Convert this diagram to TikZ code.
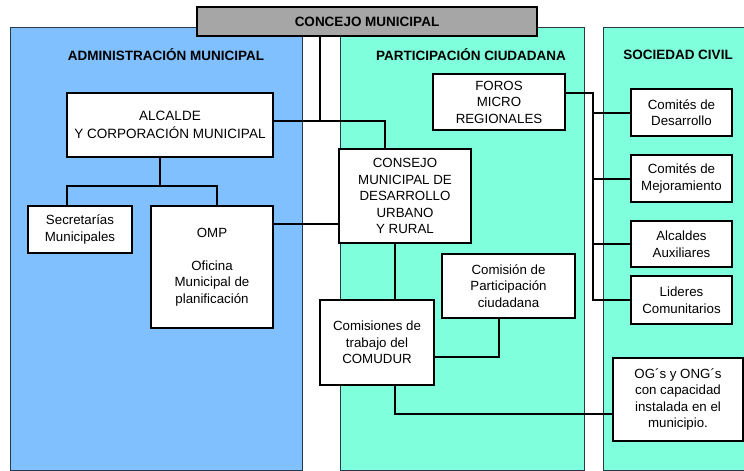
\documentclass[tikz,border=0pt]{standalone}
\usepackage{fontspec}
\setmainfont{Liberation Sans}
\definecolor{panelblue}{HTML}{80C0FF}
\definecolor{panelteal}{HTML}{80FFDC}
\definecolor{concejogray}{HTML}{A6A6A6}
\definecolor{panelline}{HTML}{2A3A4A}
\tikzset{
  panel/.style={draw=panelline, line width=0.8pt},
  box/.style={draw=black, line width=2pt, fill=white, inner sep=0pt, align=center,
    font=\fontsize{13.3}{16.5}\selectfont},
  title/.style={font=\fontsize{13.5}{16}\selectfont\bfseries, inner sep=0pt},
  link/.style={draw=black, line width=2pt}
}
\begin{document}
\begin{tikzpicture}[x=1pt,y=-1pt]
\useasboundingbox (0,0) rectangle (744,471);
% panels
\fill[white] (0,0) rectangle (744,471);
\draw[panel, fill=panelblue] (10,27) rectangle (302,470);
\draw[panel, fill=panelteal] (340,27) rectangle (584,470);
\draw[panel, fill=panelteal] (603,27) rectangle (760,470);
% titles
\node[title] (tadm) at (166,55) {ADMINISTRACIÓN MUNICIPAL};
\node[title] (tpar) at (471,55) {PARTICIPACIÓN CIUDADANA};
\node[title] (tsoc) at (678,55) {SOCIEDAD CIVIL};
% boxes
\node[box, fill=concejogray, minimum width=340pt, minimum height=29pt,
      font=\fontsize{13.5}{16}\selectfont\bfseries] (concejo) at (367,21.5) {CONCEJO MUNICIPAL};
\node[box, minimum width=206pt, minimum height=64pt, font=\fontsize{13.5}{18}\selectfont] (alcalde) at (170,125)
  {ALCALDE\\Y CORPORACIÓN MUNICIPAL};
\node[box, minimum width=104pt, minimum height=47pt] (secret) at (80,229.5)
  {Secretarías\\Municipales};
\node[box, minimum width=122pt, minimum height=122pt] (omp) at (212,267)
  {OMP\\[16.5pt]Oficina\\Municipal de\\planificación};
\node[box, minimum width=132pt, minimum height=94pt] (consejo) at (405,196)
  {CONSEJO\\MUNICIPAL DE\\DESARROLLO\\URBANO\\Y RURAL};
\node[box, minimum width=132pt, minimum height=56pt] (foros) at (499,102)
  {FOROS\\MICRO\\REGIONALES};
\node[box, minimum width=133pt, minimum height=64pt] (comision) at (508.5,286)
  {Comisión de\\Participación\\ciudadana};
\node[box, minimum width=114pt, minimum height=85pt] (comisiones) at (377,342.5)
  {Comisiones de\\trabajo del\\COMUDUR};
\node[box, minimum width=101pt, minimum height=47pt] (desarrollo) at (681.5,112.5)
  {Comités de\\Desarrollo};
\node[box, minimum width=101pt, minimum height=47pt] (mejora) at (681.5,178.5)
  {Comités de\\Mejoramiento};
\node[box, minimum width=101pt, minimum height=46pt] (alcaldes) at (681.5,244)
  {Alcaldes\\Auxiliares};
\node[box, minimum width=101pt, minimum height=48pt] (lideres) at (681.5,300)
  {Lideres\\Comunitarios};
\node[box, minimum width=130pt, minimum height=83pt] (og) at (678,399.5)
  {OG´s y ONG´s\\con capacidad\\instalada en el\\municipio.};
% junctions
\coordinate (j1) at (320,121);
\coordinate (j2) at (385,121);
\coordinate (j3) at (160,186);
\coordinate (j4) at (67,186);
\coordinate (j5) at (217,186);
\coordinate (j6) at (300,224);
\coordinate (j7) at (395,300);
\coordinate (j8) at (499,357);
\coordinate (j9) at (395,414);
\coordinate (f1) at (593,93);
% connectors
\begin{scope}[on background layer/.style={}]
\draw[link] (concejo.south -| j1) -- (j1);
\draw[link] (alcalde.east |- j1) -- (j2) -- (j2 |- consejo.north);
\draw[link] (j3 |- alcalde.south) -- (j3);
\draw[link] (j4 |- secret.north) -- (j4) -- (j5) -- (j5 |- omp.north);
\draw[link] (omp.east |- j6) -- (consejo.west |- j6);
\draw[link] (consejo.south -| j7) -- (comisiones.north -| j7);
\draw[link] (comision.south -| j8) -- (j8) -- (comisiones.east |- j8);
\draw[link] (comisiones.south -| j9) -- (j9) -- (og.west |- j9);
\draw[link] (foros.east |- f1) -- (f1) -- (f1 |- lideres.west) -- (lideres.west);
\draw[link] (f1 |- desarrollo.west) -- (desarrollo.west);
\draw[link] (f1 |- mejora.west) -- (mejora.west);
\draw[link] (f1 |- alcaldes.west) -- (alcaldes.west);
\end{scope}
\end{tikzpicture}
\end{document}
